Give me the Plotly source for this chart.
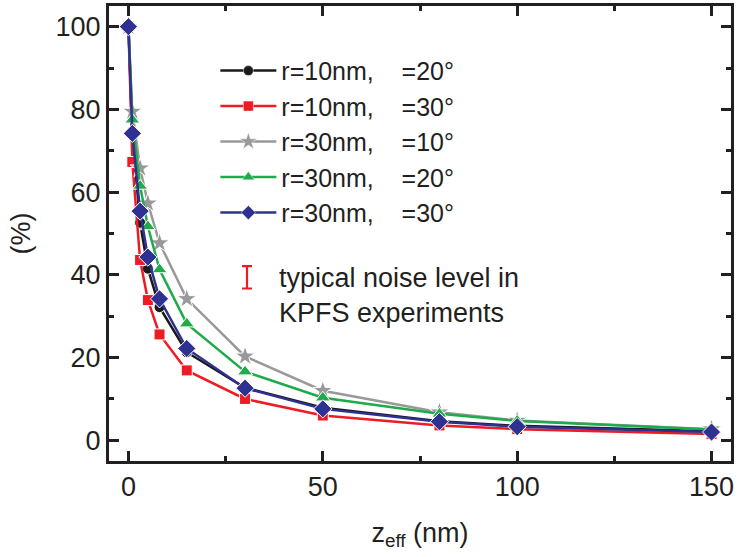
import plotly.graph_objects as go

z_eff = [0, 1, 3, 5, 8, 15, 30, 50, 80, 100, 150]

r10_t20 = [100, 74.0, 52.6, 41.5, 32.2, 21.3, 12.7, 7.9, 4.6, 3.5, 2.2]
r10_t30 = [100, 67.3, 43.6, 33.9, 25.6, 16.9, 10.0, 6.0, 3.6, 2.7, 1.5]
r30_t10 = [100, 79.5, 65.8, 57.3, 47.7, 34.2, 20.3, 12.0, 6.8, 4.8, 2.7]
r30_t20 = [100, 77.5, 61.5, 51.7, 41.3, 28.2, 16.6, 10.3, 6.4, 4.7, 2.6]
r30_t30 = [100, 74.2, 55.4, 44.3, 34.2, 22.2, 12.6, 7.6, 4.5, 3.3, 2.0]

series_names = ["r=10nm,\u00a0\u00a0\u00a0\u00a0=20°", "r=10nm,\u00a0\u00a0\u00a0\u00a0=30°",
                "r=30nm,\u00a0\u00a0\u00a0\u00a0=10°", "r=30nm,\u00a0\u00a0\u00a0\u00a0=20°",
                "r=30nm,\u00a0\u00a0\u00a0\u00a0=30°"]
series_values = [r10_t20, r10_t30, r30_t10, r30_t20, r30_t30]
colors = ["#1a1a1a", "#ed1c24", "#999999", "#1faa4b", "#2e3192"]
symbols = ["circle", "square", "star", "triangle-up", "diamond"]
sizes = [11, 11, 15, 13, 14]
legend_sizes = [10, 10, 13, 11, 11]

noise_x = [30.5]
noise_y = [39.4]
noise_err = [2.7]
noise_lines = ["typical noise level in", "KPFS experiments"]
noise_line_y = [39.2, 30.8]

FONT = "Liberation Sans, Arial, sans-serif"
TXT = "#231f20"
FS = 27

fig = go.Figure()
for name, vals, c, s, sz, lsz in zip(series_names, series_values, colors, symbols, sizes, legend_sizes):
    fig.add_trace(go.Scatter(
        x=z_eff, y=vals, name=name, mode="lines+markers", showlegend=False,
        line=dict(color=c, width=2.5),
        marker=dict(symbol=s, size=sz, color=c, line=dict(color="white", width=1)),
    ))
    fig.add_trace(go.Scatter(
        x=[None], y=[None], name=name, mode="lines+markers", showlegend=True,
        line=dict(color=c, width=2.5),
        marker=dict(symbol=s, size=lsz, color=c, line=dict(color="white", width=0.5)),
    ))

fig.add_trace(go.Scatter(
    x=noise_x, y=noise_y, mode="markers", showlegend=False,
    marker=dict(size=1, color="rgba(0,0,0,0)"),
    error_y=dict(type="data", array=noise_err, color="#ed1c24", thickness=2.2, width=5),
))

for t, yy in zip(noise_lines, noise_line_y):
    fig.add_annotation(x=0.27, xref="paper", y=yy, yref="y", xanchor="left", yanchor="middle",
                       text=t, showarrow=False, align="left",
                       font=dict(size=FS, color=TXT, family=FONT))

axis_common = dict(
    showline=True, linewidth=3, linecolor="#231f20", mirror="allticks",
    ticks="inside", ticklen=10, tickwidth=2.5, tickcolor="#231f20",
    showgrid=False, zeroline=False,
    tickfont=dict(size=FS, color=TXT, family=FONT),
)

fig.update_xaxes(range=[-5, 155], tickvals=[0, 50, 100, 150],
                 minor=dict(ticks="inside", ticklen=5, tickwidth=2.5, tickcolor="#231f20",
                            tickvals=[25, 75, 125], showgrid=False),
                 title=dict(text="z<sub>eff</sub> (nm)", font=dict(size=FS, color=TXT, family=FONT), standoff=22),
                 **axis_common)
fig.update_yaxes(range=[-5, 105], tickvals=[0, 20, 40, 60, 80, 100],
                 minor=dict(ticks="inside", ticklen=5, tickwidth=2.5, tickcolor="#231f20",
                            tickvals=[10, 30, 50, 70, 90], showgrid=False),
                 title=dict(text="(%)", font=dict(size=FS, color=TXT, family=FONT), standoff=18),
                 **axis_common)

fig.update_layout(
    width=737, height=557,
    margin=dict(l=109, r=3, t=3, b=96),
    paper_bgcolor="white", plot_bgcolor="white",
    font=dict(family=FONT, size=FS, color=TXT),
    legend=dict(x=0.171, y=0.908, xanchor="left", yanchor="top", bgcolor="rgba(0,0,0,0)",
                font=dict(size=25, color=TXT, family=FONT), itemwidth=56, tracegroupgap=0),
)

fig.write_html("out.html")
